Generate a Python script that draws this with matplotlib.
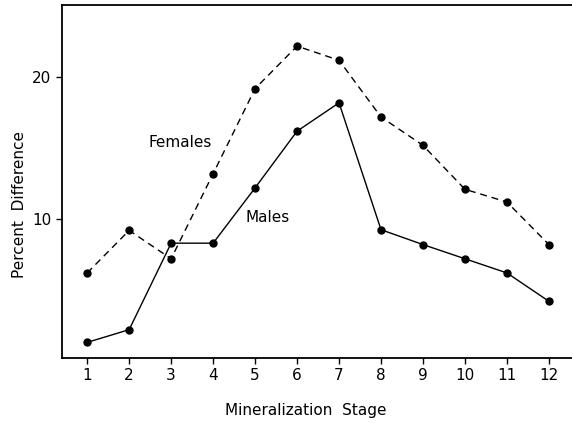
import matplotlib
matplotlib.use("Agg")
import matplotlib.pyplot as plt
import numpy as np

# data
stage = np.arange(1, 13)
females = [6.2, 9.2, 7.2, 13.2, 19.2, 22.2, 21.2, 17.2, 15.2, 12.1, 11.2, 8.2]
males = [1.3, 2.2, 8.3, 8.3, 12.2, 16.2, 18.2, 9.25, 8.2, 7.2, 6.2, 4.2]
yticks = [10, 20]

plt.rcParams['font.family'] = ['DejaVu Sans']

fig = plt.figure(figsize=(5.72, 4.23), dpi=100)
ax = fig.add_axes([62/572, 1 - 358/423, 1 - 62/572, 353/423])

ax.plot(stage, females, color='black', lw=1.0, ls=(0, (5, 3.5)),
        marker='o', ms=5)
ax.plot(stage, males, color='black', lw=1.0, marker='o', ms=5)

ax.set_xlim(0.4, 12.55)
ax.set_ylim(0.2, 25.1)
ax.set_xticks(stage)
ax.set_yticks(yticks)
ax.tick_params(direction='out', length=4, width=1, labelsize=11)
ax.spines['right'].set_visible(False)
for s in ['left', 'bottom', 'top']:
    ax.spines[s].set_linewidth(1.3)

ax.text(2.45, 15.4, 'Females', fontsize=11, ha='left', va='center')
ax.text(4.76, 10.1, 'Males', fontsize=11, ha='left', va='center')

fig.text(306/572, 1 - 410/423, 'Mineralization  Stage', fontsize=11, ha='center', va='center')
fig.text(20/572, 1 - 205/423, 'Percent  Difference', fontsize=11, ha='center', va='center',
         rotation=90)

fig.savefig('out.png', dpi=100)
